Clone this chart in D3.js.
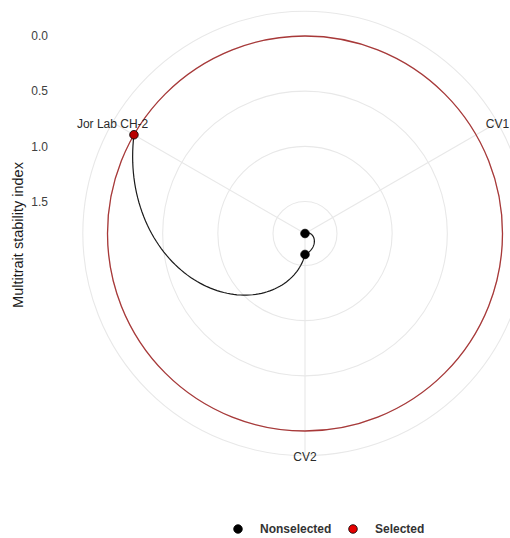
<!DOCTYPE html>
<html>
<head>
<meta charset="utf-8">
<script src="https://cdn.jsdelivr.net/npm/d3@7"></script>
<style>
  html, body { margin: 0; padding: 0; background: #fff; }
  svg { display: block; font-family: "Liberation Sans", Arial, sans-serif; }
</style>
</head>
<body>
<svg id="chart" width="510" height="538"></svg>
<script>
// Genotypes on the angular axis and their multitrait stability index (MTSI)
const genotypes = ["CV1", "CV2", "Jor Lab CH-2"];
const mtsi = [1.79, 1.60, 0.00];
const isSelected = [false, false, true];
const radialTicks = [0.0, 0.5, 1.0, 1.5];
const legendLabels = ["Nonselected", "Selected"];
const legendColors = ["#000000", "#e60000"];

const svg = d3.select("#chart");
const cx = 305, cy = 233.5;
const rData = 197.5;          // radius of the data range
const rOuter = rData * 1.125; // outer ring holding the genotype labels

// angular scale: discrete genotypes spread evenly round the circle
const theta = d3.scalePoint().domain(genotypes).range([0, 2 * Math.PI]).padding(0.5);
// radial scale reversed: low MTSI sits on the outside
const r = d3.scaleLinear().domain([d3.max(mtsi), 0]).range([0, rData]);

const toXY = (a, rad) => [cx + rad * Math.sin(a), cy - rad * Math.cos(a)];

const g = svg.append("g");

// grid: concentric circles at the radial ticks and the outer ring
const gridColor = "#e8e8e8";
g.selectAll("circle.grid")
  .data(radialTicks)
  .join("circle")
  .attr("class", "grid")
  .attr("cx", cx).attr("cy", cy)
  .attr("r", d => r(d))
  .attr("fill", "none").attr("stroke", gridColor).attr("stroke-width", 1.1);
g.append("circle")
  .attr("cx", cx).attr("cy", cy).attr("r", rOuter)
  .attr("fill", "none").attr("stroke", gridColor).attr("stroke-width", 1.1);

// spokes for each genotype
g.selectAll("line.spoke")
  .data(genotypes)
  .join("line")
  .attr("class", "spoke")
  .attr("x1", cx).attr("y1", cy)
  .attr("x2", d => toXY(theta(d), rOuter)[0])
  .attr("y2", d => toXY(theta(d), rOuter)[1])
  .attr("stroke", gridColor).attr("stroke-width", 1.1);

// cut point: largest MTSI among the selected genotypes
const cutpoint = d3.max(mtsi.filter((_, i) => isSelected[i]));
g.append("circle")
  .attr("cx", cx).attr("cy", cy).attr("r", r(cutpoint))
  .attr("fill", "none").attr("stroke", "#a83838").attr("stroke-width", 1.3);

// path joining the genotypes, interpolated in (angle, radius) space
const pathPts = [];
for (let i = 0; i < genotypes.length - 1; i++) {
  const a0 = theta(genotypes[i]), a1 = theta(genotypes[i + 1]);
  const v0 = mtsi[i], v1 = mtsi[i + 1];
  const n = 80;
  for (let k = 0; k <= n; k++) {
    const t = k / n;
    pathPts.push(toXY(a0 + (a1 - a0) * t, r(v0 + (v1 - v0) * t)));
  }
}
g.append("path")
  .attr("d", d3.line()(pathPts))
  .attr("fill", "none").attr("stroke", "#1a1a1a").attr("stroke-width", 1.2);

// genotype points
g.selectAll("circle.pt")
  .data(genotypes)
  .join("circle")
  .attr("class", "pt")
  .attr("cx", (d, i) => toXY(theta(d), r(mtsi[i]))[0])
  .attr("cy", (d, i) => toXY(theta(d), r(mtsi[i]))[1])
  .attr("r", 4.3)
  .attr("fill", (d, i) => isSelected[i] ? "#b80000" : "#000")
  .attr("stroke", "#000").attr("stroke-width", 0.8);

// genotype labels on the outer ring
g.selectAll("text.geno")
  .data(genotypes)
  .join("text")
  .attr("class", "geno")
  .attr("x", d => toXY(theta(d), rOuter)[0])
  .attr("y", d => toXY(theta(d), rOuter)[1] + 1.5)
  .attr("dy", "0.35em")
  .attr("text-anchor", "middle")
  .attr("font-size", 12)
  .attr("fill", "#2b2b2b")
  .text(d => d);

// radial tick labels on the left
g.selectAll("text.tick")
  .data(radialTicks)
  .join("text")
  .attr("class", "tick")
  .attr("x", 48)
  .attr("y", d => cy - r(d))
  .attr("dy", "0.35em")
  .attr("text-anchor", "end")
  .attr("font-size", 12)
  .attr("fill", "#404040")
  .text(d => d3.format(".1f")(d));

// axis title
svg.append("text")
  .attr("transform", "translate(23,235) rotate(-90)")
  .attr("text-anchor", "middle")
  .attr("font-size", 14.5)
  .attr("fill", "#1a1a1a")
  .text("Multitrait stability index");

// legend
const legendX = [238, 353];
const leg = svg.append("g");
leg.selectAll("circle")
  .data(legendLabels)
  .join("circle")
  .attr("cx", (d, i) => legendX[i]).attr("cy", 529)
  .attr("r", 4.3)
  .attr("fill", (d, i) => legendColors[i])
  .attr("stroke", "#000").attr("stroke-width", 0.8);
leg.selectAll("text")
  .data(legendLabels)
  .join("text")
  .attr("x", (d, i) => legendX[i] + 22).attr("y", 529)
  .attr("dy", "0.35em")
  .attr("font-size", 12)
  .attr("font-weight", "bold")
  .attr("fill", "#333")
  .text(d => d);
</script>
</body>
</html>
